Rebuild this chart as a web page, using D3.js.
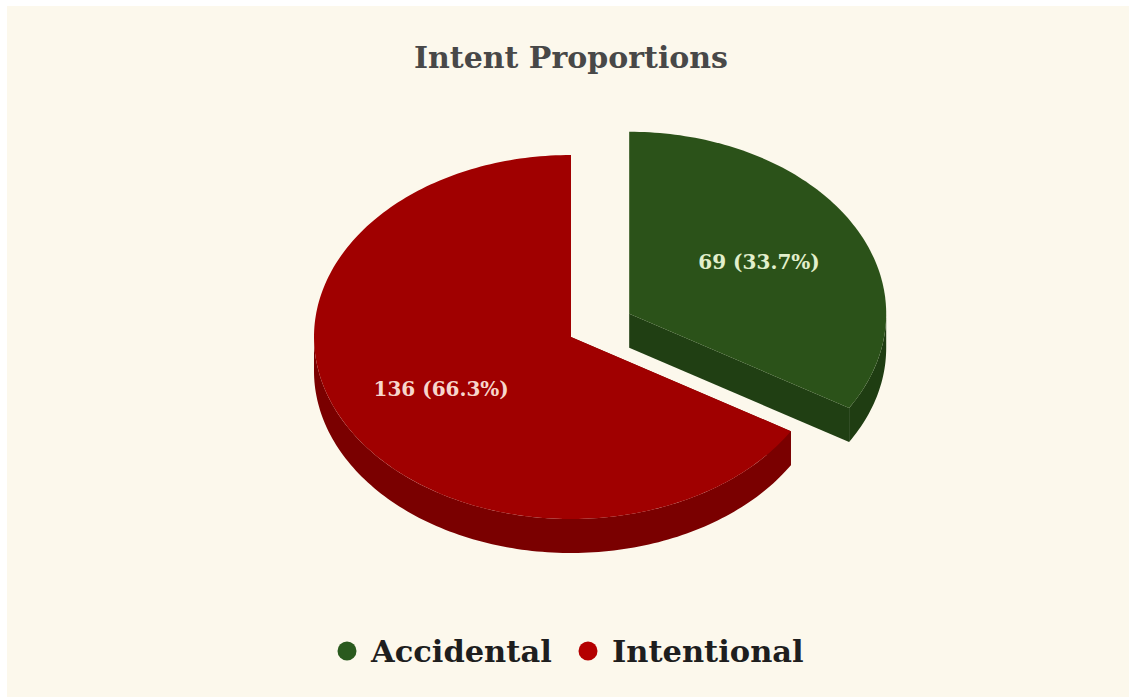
<!DOCTYPE html>
<html>
<head>
<meta charset="utf-8">
<script src="https://cdn.jsdelivr.net/npm/d3@7"></script>
<style>
  html, body { margin: 0; padding: 0; background: #ffffff; }
  svg { display: block; }
</style>
</head>
<body>
<svg id="chart" width="1129" height="697"></svg>
<script>
// Intent breakdown
const categories = ["Accidental", "Intentional"];
const counts = [69, 136];
const sliceColors = ["#2b5219", "#a00000"];
const sideColors = ["#1f3d12", "#7a0000"];
const labelColors = ["#e2efcc", "#f7d6cc"];
const legendColors = ["#2a5a1e", "#b40000"];
const titleText = "Intent Proportions";

const W = 1129, H = 697;
const svg = d3.select("#chart");

// panel background
svg.append("rect")
  .attr("x", 7).attr("y", 6).attr("width", W - 7).attr("height", H - 6)
  .attr("fill", "#fcf8ec");

// title
svg.append("text")
  .attr("x", 571).attr("y", 68)
  .attr("text-anchor", "middle")
  .attr("font-family", "DejaVu Serif").attr("font-weight", "bold")
  .attr("font-size", 30).attr("fill", "#484848")
  .text(titleText);

// 3D pie geometry
const cx = 571, cy = 337, rx = 257, ry = 182, depth = 34;
const explode = [0.26, 0];
const total = d3.sum(counts);
const data = categories.map((c, i) => ({ name: c, value: counts[i], i }));
const arcs = d3.pie().sort(null).value(d => d.value)(data);

function pt(a, r, ox, oy, dz) {
  return [ox + Math.sin(a) * r * rx, oy - Math.cos(a) * r * ry + (dz || 0)];
}
function ellipseArc(a0, a1, ox, oy, dz) {
  const n = Math.max(2, Math.ceil(Math.abs(a1 - a0) / 0.02));
  const s = d3.range(n + 1).map(k => a0 + (a1 - a0) * k / n);
  return s.map(a => pt(a, 1, ox, oy, dz));
}

arcs.forEach(d => {
  const mid = (d.startAngle + d.endAngle) / 2;
  d.ox = cx + Math.sin(mid) * explode[d.data.i] * rx;
  d.oy = cy - Math.cos(mid) * explode[d.data.i] * ry;
});

const line = d3.line();
const gSides = svg.append("g");
const gTops = svg.append("g");

arcs.forEach(d => {
  const i = d.data.i;
  // radial cut faces
  [d.startAngle, d.endAngle].forEach(a => {
    const p = pt(a, 1, d.ox, d.oy);
    const poly = [[d.ox, d.oy], p, [p[0], p[1] + depth], [d.ox, d.oy + depth]];
    gSides.append("path").attr("d", line(poly) + "Z")
      .attr("fill", d3.color(sideColors[i]).brighter(0.08));
  });
  // outer curved wall, front half only
  const b0 = Math.max(d.startAngle, Math.PI / 2);
  const b1 = Math.min(d.endAngle, Math.PI * 3 / 2);
  if (b1 > b0) {
    const top = ellipseArc(b0, b1, d.ox, d.oy, 0);
    const bot = ellipseArc(b1, b0, d.ox, d.oy, depth);
    gSides.append("path").attr("d", line(top.concat(bot)) + "Z")
      .attr("fill", sideColors[i]);
  }
  // top face
  const face = [[d.ox, d.oy]].concat(ellipseArc(d.startAngle, d.endAngle, d.ox, d.oy, 0));
  gTops.append("path").attr("d", line(face) + "Z")
    .attr("fill", sliceColors[i]);
});

// value labels
const fmt = d3.format(".1f");
arcs.forEach(d => {
  const mid = (d.startAngle + d.endAngle) / 2;
  const p = pt(mid, 0.58, d.ox, d.oy);
  gTops.append("text")
    .attr("x", p[0]).attr("y", p[1])
    .attr("dy", "0.36em")
    .attr("text-anchor", "middle")
    .attr("font-family", "DejaVu Serif").attr("font-weight", "bold")
    .attr("font-size", 20).attr("fill", labelColors[d.data.i])
    .text(`${d.data.value} (${fmt(d.data.value / total * 100)}%)`);
});

// legend
const legend = svg.append("g");
const legendX = [347, 588];
categories.forEach((c, i) => {
  legend.append("circle")
    .attr("cx", legendX[i]).attr("cy", 651).attr("r", 9.5)
    .attr("fill", legendColors[i]);
  legend.append("text")
    .attr("x", legendX[i] + 24).attr("y", 662)
    .attr("font-family", "DejaVu Serif").attr("font-weight", "bold")
    .attr("font-size", 30.5).attr("fill", "#1e1e1e")
    .text(c);
});
</script>
</body>
</html>
